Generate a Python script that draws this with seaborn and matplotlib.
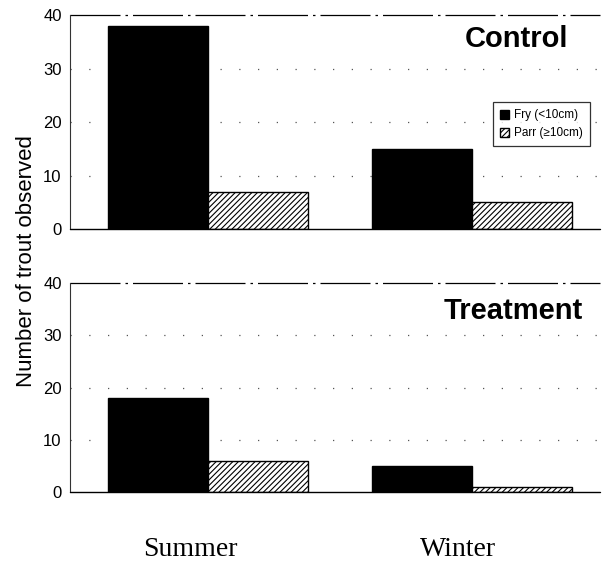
import pandas as pd
import matplotlib.pyplot as plt
import seaborn as sns

# values
seasons = ["Summer", "Winter"]
size_classes = ["Fry (<10cm)", "Parr (\u226510cm)"]
control_fry = [38, 15]
control_parr = [7, 5]
treatment_fry = [18, 5]
treatment_parr = [6, 1]
yticks = [0, 10, 20, 30, 40]


def make_df(fry, parr):
    rows = []
    for s, f, p in zip(seasons, fry, parr):
        rows.append({"Season": s, "Size": size_classes[0], "Count": f})
        rows.append({"Season": s, "Size": size_classes[1], "Count": p})
    return pd.DataFrame(rows)


sns.set_style("white")
plt.rcParams["font.family"] = ["Liberation Sans", "DejaVu Sans"]
plt.rcParams["text.color"] = "black"
plt.rcParams["ytick.color"] = "black"
plt.rcParams["hatch.color"] = "#444444"
plt.rcParams["hatch.linewidth"] = 0.8

fig = plt.figure(figsize=(6.07, 5.66), dpi=100)
ax_top = fig.add_axes([0.1153, 0.5954, 0.873, 0.378])
ax_bot = fig.add_axes([0.1153, 0.1307, 0.873, 0.369])

panels = [
    (ax_top, make_df(control_fry, control_parr), "Control", (0.94, 0.888), True),
    (ax_bot, make_df(treatment_fry, treatment_parr), "Treatment", (0.968, 0.866), False),
]

for ax, df, title, pos, show_legend in panels:
    sns.barplot(data=df, x="Season", y="Count", hue="Size", order=seasons,
                hue_order=size_classes, palette=["black", "white"],
                width=0.76, edgecolor="black", linewidth=1.0, ax=ax,
                legend=False)
    for bar in ax.containers[1]:
        bar.set_hatch("//////")
    ax.set_xlim(-0.523, 1.485)
    ax.set_ylim(0, 40)
    ax.set_yticks(yticks)
    ax.tick_params(axis="y", labelsize=12, length=0, pad=6, labelcolor="black")
    ax.set_xticks([])
    ax.set_xlabel("")
    ax.set_ylabel("")
    for side in ["top", "right", "bottom"]:
        ax.spines[side].set_visible(False)
    ax.spines["left"].set_linewidth(0.8)
    ax.spines["left"].set_color("#333333")
    # sparse dotted grid, broken line at 40
    for yv in [10, 20, 30]:
        ax.axhline(yv, color="#555555", lw=0.9, ls=(0, (1, 14)), zorder=0)
    ax.axhline(40, color="black", lw=0.9, ls=(0, (40, 4, 2, 4)),
               zorder=0, clip_on=False)
    ax.axhline(0, color="black", lw=1.0, zorder=3, clip_on=False)
    ax.text(pos[0], pos[1], title, transform=ax.transAxes,
            ha="right", va="center", fontsize=21, fontweight="bold")

    if show_legend:
        handles = [plt.Rectangle((0, 0), 1, 1, facecolor="black", edgecolor="black"),
                   plt.Rectangle((0, 0), 1, 1, facecolor="white", edgecolor="black",
                                 hatch="//////")]
        leg = ax.legend(handles, size_classes, loc="upper left",
                        bbox_to_anchor=(0.798, 0.593), fontsize=8.5,
                        frameon=True, fancybox=False, edgecolor="black",
                        handlelength=0.8, handleheight=0.8, handletextpad=0.4,
                        borderpad=0.6, labelspacing=0.5, borderaxespad=0)
        leg.get_frame().set_linewidth(0.9)

fig.text(0.043, 0.539, "Number of trout observed", rotation=90,
         ha="center", va="center", fontsize=16)
fig.text(0.313, 0.018, "Summer", ha="center", va="baseline", fontsize=20,
         family=["Liberation Serif", "DejaVu Serif"])
fig.text(0.755, 0.018, "Winter", ha="center", va="baseline", fontsize=20,
         family=["Liberation Serif", "DejaVu Serif"])

fig.savefig("out.png", dpi=100)
